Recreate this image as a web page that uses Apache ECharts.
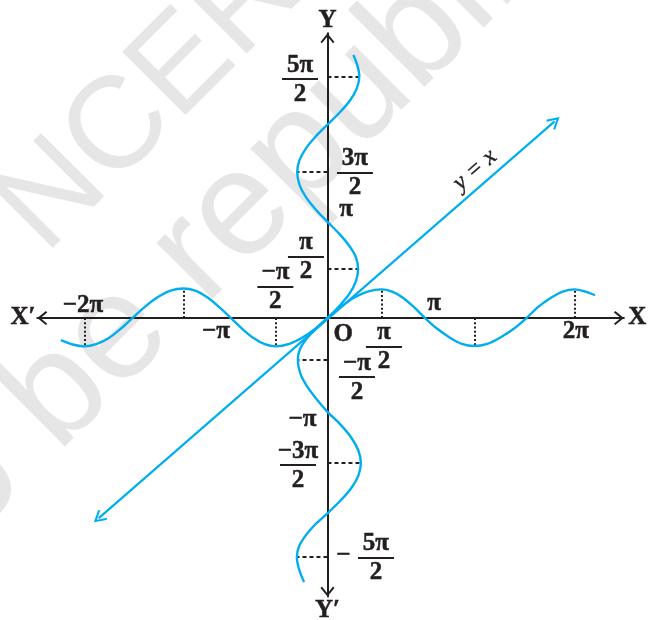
<!DOCTYPE html>
<html><head><meta charset="utf-8">
<script src="https://cdn.jsdelivr.net/npm/echarts@6/dist/echarts.min.js"></script>
<style>html,body{margin:0;padding:0;background:#fff}#c{width:650px;height:620px}</style>
</head><body><div id="c"></div>
<script>
const PI = Math.PI;
// y = sin x : x in multiples of π, y in units
const sineX = [-2.72,-2.60,-2.48,-2.36,-2.23,-2.11,-1.99,-1.86,-1.73,-1.60,-1.47,-1.35,-1.23,-1.11,-0.985,-0.87,-0.755,-0.64,-0.525,-0.39,-0.26,-0.13,0,0.135,0.27,0.41,0.55,0.66,0.77,0.88,0.995,1.12,1.25,1.37,1.5,1.63,1.76,1.90,2.03,2.15,2.28,2.40,2.52,2.63,2.73];
const sineY = [-0.72,-0.86,-0.92,-0.85,-0.65,-0.35,0,0.37,0.68,0.89,0.96,0.89,0.68,0.37,0,-0.35,-0.65,-0.85,-0.92,-0.84,-0.64,-0.36,0,0.36,0.66,0.86,0.93,0.86,0.66,0.36,0,-0.35,-0.64,-0.84,-0.91,-0.84,-0.64,-0.35,0,0.36,0.66,0.86,0.93,0.86,0.74];
const sinePeaks = [-2.48,-1.47,-0.525,0.55,1.5,2.52];
// reflected curve x = sin y : y in multiples of π, x in units
const invY = [2.72,2.61,2.5,2.375,2.25,2.125,2.0,1.88,1.755,1.63,1.51,1.38,1.25,1.12,0.995,0.87,0.75,0.63,0.505,0.38,0.25,0.125,0,-0.11,-0.215,-0.32,-0.43,-0.565,-0.70,-0.835,-0.97,-1.10,-1.235,-1.37,-1.5,-1.63,-1.76,-1.89,-2.02,-2.13,-2.245,-2.36,-2.47,-2.60,-2.73];
const invX = [0.83,0.96,1.02,0.94,0.72,0.39,0,-0.37,-0.69,-0.90,-0.97,-0.90,-0.69,-0.37,0,0.38,0.69,0.91,0.98,0.91,0.70,0.38,0,-0.37,-0.67,-0.88,-0.95,-0.88,-0.67,-0.36,0,0.41,0.76,0.99,1.07,0.99,0.76,0.41,0,-0.38,-0.69,-0.91,-0.98,-0.91,-0.75];
const invPeaks = [2.5,1.51,0.505,-0.43,-1.5,-2.47];
// line y = x (end points, units)
const diagX = [-7.33, 7.28];
const diagY = [-6.50, 6.39];
// tick labels and where they sit (units)
const labelText = ['−2π','−π','π','2π','π/2','−π/2','π/2','−π/2','O','5π/2','3π/2','π','−π','−3π/2','−','5π/2','X′','X','Y','Y′'];
const labelX = [-7.84,-3.57,3.42,7.96,1.81,-1.67,-0.69,0.945,0.506,-0.88,0.88,0.593,-0.80,-0.945,0.506,1.554,-9.76,9.93,0,0];
const labelY = [0.42,-0.445,0.48,-0.445,-0.975,0.975,1.95,-1.95,-0.552,7.73,4.68,3.51,-3.31,-4.81,-7.73,-7.83,0,0,9.68,-9.49];
const eqText = 'y = x';
const eqAt = [4.73, 4.81];
const watermark = ['NCERT', 'not to ', 'be republished'];

const INK = '#231f20', CYAN = '#00aeef', FONT = 'Liberation Serif';
const arrow = 'path://M7,0L14,8.6L12.6,10L7,3.2L1.4,10L0,8.6Z';

const sineData = sineX.map((v, i) => [v * PI, sineY[i]]);
const invData = invY.map((v, i) => [invX[i], v * PI]);
const xGuides = sinePeaks.map(p => { const i = sineX.indexOf(p); return {coords: [[p * PI, 0], [p * PI, sineY[i]]]}; });
const yGuides = invPeaks.map(p => { const i = invY.indexOf(p); return {coords: [[0, p * PI], [invX[i], p * PI]]}; });
const labelData = labelText.map((t, i) => ({name: t, value: [labelX[i], labelY[i]]}));

const txt = {fontFamily: FONT, fontWeight: 'bold', fontSize: 25, color: INK, align: 'center',
             textBorderColor: INK, textBorderWidth: 0.5};
const rich = {
  s: Object.assign({}, txt, {lineHeight: 26}),
  n: Object.assign({}, txt, {lineHeight: 24}),
  bar: {width: 36, height: 2, lineHeight: 4, fontSize: 2, backgroundColor: INK, align: 'center'},
  d: Object.assign({}, txt, {lineHeight: 26})
};

const axisCommon = {
  type: 'value',
  axisLine: {onZero: true, lineStyle: {color: INK, width: 2}, symbol: [arrow, arrow], symbolSize: [14, 10], symbolOffset: [5, -5]},
  axisTick: {show: false}, axisLabel: {show: false}, splitLine: {show: false}
};
const WM = '#e6e6e6';
const wmStyle = {font: '130px "Liberation Sans"', fill: WM, verticalAlign: 'middle', textVerticalAlign: 'middle'};
const wm2Style = {font: '150px "Liberation Sans"', fill: WM, verticalAlign: 'middle', textVerticalAlign: 'middle'};
const clearItem = {color: 'rgba(0,0,0,0)', opacity: 1};

const chart = echarts.init(document.getElementById('c'));
chart.setOption({
  animation: false,
  backgroundColor: '#fff',
  grid: {left: 37.3, right: 26.1, top: 33.3, bottom: 23.4, outerBoundsMode: 'none', containLabel: false},
  xAxis: Object.assign({}, axisCommon, {min: -9.3, max: 9.5}),
  yAxis: Object.assign({}, axisCommon, {min: -9.05, max: 9.25}),
  graphic: [
    {type: 'text', x: 19.8, y: 229.8, rotation: PI / 4, z: -10, silent: true,
     style: Object.assign({text: watermark[0], align: 'left', textAlign: 'left'}, wmStyle)},
    {type: 'text', x: 28.5, y: 424.3, rotation: PI / 4, z: -10, silent: true,
     style: Object.assign({text: watermark[1], align: 'right', textAlign: 'right'}, wm2Style)},
    {type: 'text', x: 28.5, y: 424.3, rotation: PI / 4, z: -10, silent: true,
     style: Object.assign({text: watermark[2], align: 'left', textAlign: 'left'}, wm2Style)}
  ],
  series: [
    {type: 'lines', coordinateSystem: 'cartesian2d', silent: true, z: 3, data: xGuides,
     lineStyle: {color: INK, width: 2, type: [2, 2.2], opacity: 1}},
    {type: 'lines', coordinateSystem: 'cartesian2d', silent: true, z: 3, data: yGuides,
     lineStyle: {color: INK, width: 2, type: [4, 3], opacity: 1}},
    {type: 'line', data: sineData, smooth: 0.3, showSymbol: false, silent: true, z: 4,
     lineStyle: {color: CYAN, width: 2.4, opacity: 1}},
    {type: 'line', data: invData, smooth: 0.3, showSymbol: false, silent: true, z: 4,
     lineStyle: {color: CYAN, width: 2.4, opacity: 1}},
    {type: 'lines', coordinateSystem: 'cartesian2d', silent: true, z: 4,
     data: [{coords: [[diagX[0], diagY[0]], [diagX[1], diagY[1]]]}],
     symbol: [arrow, arrow], symbolSize: 13,
     lineStyle: {color: CYAN, width: 2.2, opacity: 1}},
    {type: 'scatter', silent: true, z: 5, symbolSize: 1, clip: false,
     itemStyle: clearItem,
     data: labelData,
     label: {show: true, position: 'inside', rich: rich, color: INK, opacity: 1, fontFamily: FONT, fontWeight: 'bold', fontSize: 25,
       formatter: p => { const t = p.name; const k = t.indexOf('/');
         if (k < 0) return '{s|' + t + '}';
         return '{n|' + t.slice(0, k) + '}\n{bar| }\n{d|' + t.slice(k + 1) + '}'; }}},
    {type: 'scatter', silent: true, z: 5, symbolSize: 1, clip: false,
     itemStyle: clearItem,
     data: [{name: eqText, value: eqAt}],
     label: {show: true, position: 'inside', formatter: '{b}', rotate: 41, opacity: 1,
       fontFamily: 'Liberation Serif', fontStyle: 'italic', fontSize: 24, color: INK,
       textBorderColor: INK, textBorderWidth: 0.4}}
  ]
});
</script></body></html>
